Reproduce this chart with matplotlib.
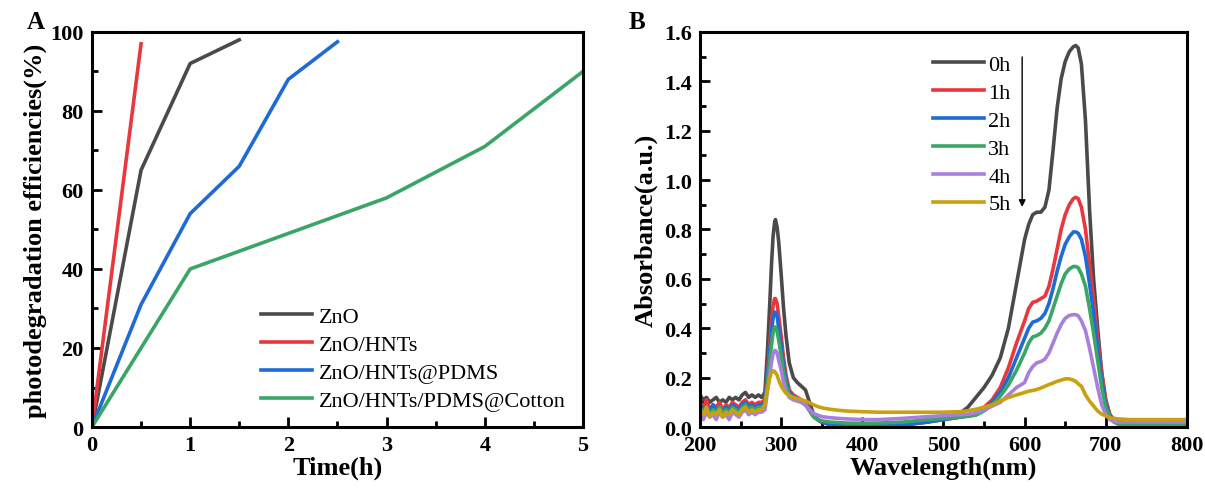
import numpy as np
import matplotlib.pyplot as plt

plt.rcParams['font.family'] = ['Liberation Serif', 'DejaVu Serif']

# ---- panel A data: photodegradation efficiency vs time
time_zno = [0, 0.5, 1, 1.5]
eff_zno = [0, 65, 92, 98]
time_hnts = [0, 0.5]
eff_hnts = [0, 97]
time_pdms = [0, 0.5, 1, 1.5, 2, 2.5]
eff_pdms = [0, 31, 54, 66, 88, 97.5]
time_cotton = [0, 1, 2, 3, 4, 5]
eff_cotton = [0, 40, 49, 58, 71, 90]

# ---- panel B data: UV-vis spectra
wavelength = [200, 204, 208, 212, 216, 220, 224, 228, 232, 236, 240, 244, 248, 252, 256, 260,
              264, 268, 272, 276, 280,
              283, 286, 288, 290, 292, 293, 295, 297, 300, 303, 306, 310, 315, 320, 325, 330,
              335, 340, 345, 350,
              360, 370, 380, 400, 420, 450, 480, 500, 520, 530, 540, 550, 560, 570, 580, 590,
              600, 605, 610, 615, 620, 625, 630, 635, 640, 645, 650, 655, 660,
              663, 666, 670, 675, 680, 685, 690, 695, 700, 705, 710, 715, 720,
              730, 750, 775, 800]

abs_0h = [0.13, 0.11, 0.12, 0.10, 0.11, 0.12, 0.10, 0.11, 0.10, 0.12, 0.11, 0.12, 0.11, 0.13, 0.14, 0.12,
          0.13, 0.12, 0.13, 0.12, 0.14,
          0.30, 0.50, 0.65, 0.77, 0.83, 0.84, 0.81, 0.75, 0.62, 0.48, 0.37, 0.26, 0.20, 0.18, 0.165, 0.15,
          0.10, 0.05, 0.03, 0.02,
          0.01, 0.005, 0.003, 0.002, 0.003, 0.008, 0.02, 0.035, 0.055, 0.08, 0.12, 0.16, 0.21, 0.28, 0.40, 0.58,
          0.76, 0.82, 0.86, 0.87, 0.87, 0.89, 0.96, 1.12, 1.29, 1.41, 1.48, 1.52, 1.54,
          1.545, 1.535, 1.47, 1.24, 0.88, 0.60, 0.40, 0.22, 0.11, 0.05, 0.03, 0.025, 0.025,
          0.025, 0.025, 0.025, 0.025]

abs_1h = [0.10, 0.08, 0.11, 0.07, 0.09, 0.08, 0.10, 0.07, 0.09, 0.08, 0.10, 0.09, 0.08, 0.10, 0.11, 0.09,
          0.10, 0.09, 0.10, 0.10, 0.11,
          0.22, 0.34, 0.42, 0.49, 0.52, 0.52, 0.50, 0.45, 0.37, 0.28, 0.21, 0.15, 0.13, 0.12, 0.11, 0.10,
          0.075, 0.05, 0.03, 0.02,
          0.01, 0.005, 0.003, 0.002, 0.003, 0.008, 0.02, 0.03, 0.04, 0.045, 0.055, 0.08, 0.11, 0.16, 0.24, 0.34,
          0.43, 0.48, 0.505, 0.51, 0.52, 0.53, 0.57, 0.64, 0.72, 0.80, 0.86, 0.90, 0.925,
          0.93, 0.925, 0.89, 0.80, 0.66, 0.52, 0.36, 0.22, 0.10, 0.05, 0.025, 0.018, 0.015,
          0.012, 0.012, 0.012, 0.012]

abs_2h = [0.09, 0.07, 0.08, 0.06, 0.09, 0.07, 0.08, 0.06, 0.08, 0.07, 0.09, 0.08, 0.07, 0.09, 0.10, 0.08,
          0.09, 0.08, 0.09, 0.09, 0.10,
          0.20, 0.31, 0.38, 0.44, 0.465, 0.465, 0.45, 0.40, 0.33, 0.25, 0.19, 0.14, 0.125, 0.115, 0.105, 0.095,
          0.07, 0.045, 0.03, 0.02,
          0.012, 0.008, 0.006, 0.005, 0.006, 0.01, 0.02, 0.03, 0.04, 0.045, 0.05, 0.07, 0.10, 0.14, 0.20, 0.28,
          0.36, 0.40, 0.425, 0.43, 0.44, 0.46, 0.50, 0.56, 0.63, 0.69, 0.74, 0.77, 0.79,
          0.79, 0.785, 0.76, 0.69, 0.58, 0.46, 0.32, 0.19, 0.09, 0.045, 0.025, 0.018, 0.015,
          0.012, 0.012, 0.012, 0.012]

abs_3h = [0.08, 0.06, 0.08, 0.05, 0.07, 0.06, 0.08, 0.06, 0.07, 0.06, 0.08, 0.07, 0.06, 0.08, 0.09, 0.07,
          0.08, 0.07, 0.08, 0.08, 0.09,
          0.17, 0.27, 0.33, 0.38, 0.405, 0.405, 0.39, 0.35, 0.29, 0.22, 0.17, 0.13, 0.12, 0.11, 0.10, 0.09,
          0.065, 0.04, 0.03, 0.025,
          0.02, 0.018, 0.016, 0.015, 0.016, 0.02, 0.03, 0.035, 0.04, 0.043, 0.048, 0.065, 0.09, 0.125, 0.17, 0.23,
          0.30, 0.34, 0.365, 0.37, 0.38, 0.40, 0.43, 0.48, 0.53, 0.58, 0.62, 0.64, 0.65,
          0.65, 0.645, 0.62, 0.57, 0.48, 0.38, 0.27, 0.16, 0.08, 0.04, 0.02, 0.012, 0.008,
          0.006, 0.006, 0.007, 0.008]

abs_4h = [0.05, 0.03, 0.06, 0.04, 0.05, 0.03, 0.06, 0.04, 0.05, 0.03, 0.06, 0.05, 0.04, 0.06, 0.07, 0.05,
          0.06, 0.05, 0.06, 0.06, 0.07,
          0.14, 0.21, 0.26, 0.295, 0.31, 0.31, 0.30, 0.27, 0.23, 0.18, 0.145, 0.12, 0.11, 0.105, 0.10, 0.09,
          0.07, 0.055, 0.048, 0.042,
          0.038, 0.035, 0.033, 0.03, 0.03, 0.035, 0.042, 0.046, 0.05, 0.052, 0.058, 0.068, 0.085, 0.10, 0.13, 0.16,
          0.18, 0.22, 0.245, 0.26, 0.265, 0.275, 0.30, 0.34, 0.38, 0.415, 0.44, 0.452, 0.455,
          0.455, 0.45, 0.43, 0.39, 0.32, 0.24, 0.16, 0.09, 0.05, 0.03, 0.022, 0.02, 0.02,
          0.02, 0.02, 0.02, 0.02]

abs_5h = [0.07, 0.05, 0.08, 0.04, 0.06, 0.05, 0.07, 0.04, 0.06, 0.05, 0.07, 0.06, 0.05, 0.07, 0.08, 0.06,
          0.07, 0.06, 0.07, 0.07, 0.09,
          0.15, 0.20, 0.22, 0.228, 0.225, 0.22, 0.21, 0.19, 0.167, 0.15, 0.137, 0.128, 0.12, 0.115, 0.11, 0.105,
          0.098, 0.09, 0.083, 0.078,
          0.072, 0.068, 0.065, 0.062, 0.06, 0.06, 0.06, 0.06, 0.062, 0.066, 0.072, 0.08, 0.09, 0.105, 0.12, 0.13,
          0.14, 0.145, 0.148, 0.152, 0.158, 0.165, 0.172, 0.178, 0.185, 0.19, 0.195, 0.195, 0.19,
          0.185, 0.175, 0.165, 0.13, 0.105, 0.085, 0.065, 0.052, 0.045, 0.038, 0.035, 0.033, 0.032,
          0.03, 0.03, 0.03, 0.03]

spectra = [abs_0h, abs_1h, abs_2h, abs_3h, abs_4h, abs_5h]
spectra_labels = ['0h', '1h', '2h', '3h', '4h', '5h']

GRAY = '#4a4a4a'
RED = '#e8383d'
BLUE = '#1f6bd6'
GREEN = '#3aa564'
PURPLE = '#a97fdc'
GOLD = '#c9a010'
spectra_colors = [GRAY, RED, BLUE, GREEN, PURPLE, GOLD]


def style_axes(ax):
    for s in ax.spines.values():
        s.set_linewidth(2.2)
    ax.tick_params(which='both', direction='in', top=False, right=False, width=2.0)
    ax.tick_params(which='major', length=7, labelsize=16, pad=6)
    ax.tick_params(which='minor', length=4)
    for lab in ax.get_xticklabels() + ax.get_yticklabels():
        lab.set_fontweight('bold')


fig = plt.figure(figsize=(12.05, 4.89), dpi=100)
axA = fig.add_axes([0.0763, 0.1247, 0.4075, 0.808])
axB = fig.add_axes([0.5809, 0.1247, 0.4041, 0.808])

# ---- panel A
lw = 2.6
axA.plot(time_zno, eff_zno, color=GRAY, lw=lw, label='ZnO')
axA.plot(time_hnts, eff_hnts, color=RED, lw=lw, label='ZnO/HNTs')
axA.plot(time_pdms, eff_pdms, color=BLUE, lw=lw, label='ZnO/HNTs@PDMS')
axA.plot(time_cotton, eff_cotton, color=GREEN, lw=lw, label='ZnO/HNTs/PDMS@Cotton')
axA.set_xlim(0, 5)
axA.set_ylim(0, 100)
axA.set_xticks(range(0, 6))
axA.set_xticks(np.arange(0.5, 5, 1), minor=True)
axA.set_yticks(range(0, 101, 20))
axA.set_yticks(range(10, 100, 20), minor=True)
style_axes(axA)
axA.set_xlabel('Time(h)', fontsize=19, fontweight='bold', labelpad=0)
axA.set_ylabel('photodegradation efficiencies(%)', fontsize=19, fontweight='bold', labelpad=2)
axA.legend(loc='upper left', bbox_to_anchor=(0.345, 0.305), frameon=False, fontsize=16,
           handlelength=2.3, handletextpad=0.3, labelspacing=0.33, borderpad=0, borderaxespad=0)

# ---- panel B
for vals, lab, col in zip(spectra, spectra_labels, spectra_colors):
    axB.plot(wavelength, vals, color=col, lw=2.6, label=lab)
axB.set_xlim(200, 800)
axB.set_ylim(0, 1.6)
axB.set_xticks(range(200, 801, 100))
axB.set_xticks(range(250, 800, 100), minor=True)
axB.set_yticks(np.arange(0, 1.61, 0.2))
axB.set_yticks(np.arange(0.1, 1.6, 0.2), minor=True)
axB.yaxis.set_major_formatter(plt.FormatStrFormatter('%.1f'))
style_axes(axB)
axB.set_xlabel('Wavelength(nm)', fontsize=19, fontweight='bold', labelpad=0)
axB.set_ylabel('Absorbance(a.u.)', fontsize=19, fontweight='bold', labelpad=4)
axB.legend(loc='upper left', bbox_to_anchor=(0.478, 0.943), frameon=False, fontsize=16,
           handlelength=2.3, handletextpad=0.2, labelspacing=0.33, borderpad=0, borderaxespad=0)
axB.annotate('', xy=(597, 0.88), xytext=(597, 1.51),
             arrowprops=dict(arrowstyle='-|>', color='black', lw=1.0, mutation_scale=10))

fig.text(0.030, 0.955, 'A', fontsize=18, fontweight='bold', ha='center', va='center')
fig.text(0.529, 0.955, 'B', fontsize=18, fontweight='bold', ha='center', va='center')

fig.savefig('out.png', dpi=100)
